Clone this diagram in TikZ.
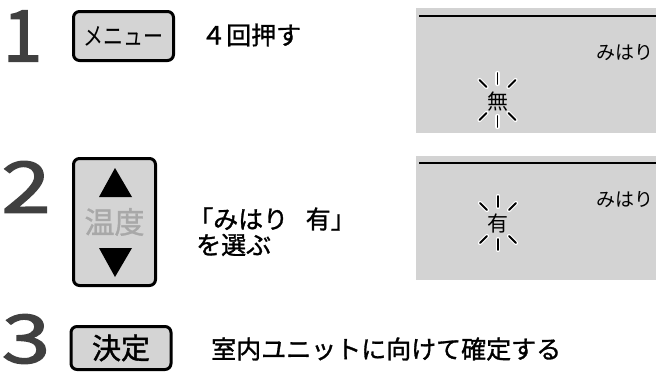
\documentclass[tikz,border=0pt]{standalone}
\usepackage{fontspec}
\usepackage{graphicx}
\usetikzlibrary{calc}
\setmainfont[FakeBold=1.2]{Noto Sans CJK JP}
\newfontfamily\plainjp{Noto Sans CJK JP}
\newfontfamily\digitfont[FakeBold=2]{Noto Sans CJK JP}
\definecolor{panelgray}{HTML}{D3D3D3}
\definecolor{btngray}{HTML}{D4D4D4}
\definecolor{digitgray}{HTML}{404040}
\definecolor{labelgray}{HTML}{A8A8A8}
\begin{document}
\begin{tikzpicture}[x=1pt,y=-1pt,
  stepnum/.style={inner sep=0pt, text=digitgray, font=\digitfont\fontsize{71}{71}\selectfont},
  btn/.style={draw=black, line width=3pt, fill=btngray, rounded corners=6pt, inner sep=0pt},
  panelrule/.style={line width=2pt, draw=black},
  txt/.style={inner sep=0pt, anchor=west, text=black},
  spark/.style={line width=1.9pt, line cap=round, draw=black, preaction={draw=white, line width=4.2pt, line cap=round}},
  tri/.style={fill=black, draw=none}]
\useasboundingbox (0,0) rectangle (656,372);
% step numbers
\node[stepnum] (n1) at (22.5,36) {1};
\node[stepnum, xscale=1.25] (n2) at (26,187) {2};
\node[stepnum, xscale=1.3, font=\digitfont\fontsize{67}{67}\selectfont] (n3) at (26,339) {3};
% buttons
\node[btn, minimum width=100pt, minimum height=49pt, font=\plainjp\fontsize{25}{25}\selectfont] (menu) at (123.5,36) {\scalebox{0.8}[1]{メニュー}};
\node[btn, minimum width=82pt, minimum height=127pt, text=labelgray, font=\fontsize{30}{30}\selectfont] (temp) at (114.5,222) {温度};
\fill[tri] (115,168) -- (132,197) -- (99,197) -- cycle;
\fill[tri] (99,248) -- (132,248) -- (115,277) -- cycle;
\node[btn, minimum width=100pt, minimum height=43pt, font=\fontsize{29}{29}\selectfont] (kettei) at (121,348) {決定};
% instruction texts
\node[txt, font=\fontsize{25}{25}\selectfont] (t1) at (201,35) {４回押す};
\node[txt, font=\fontsize{25}{25}\selectfont] (t2a) at (188,219) {「みはり\hspace{0.7em}有」};
\node[txt, font=\fontsize{25}{25}\selectfont] (t2b) at (196,245) {を選ぶ};
\node[txt, font=\fontsize{25}{25}\selectfont] (t3) at (211,349) {室内ユニットに向けて確定する};
% display panels
\fill[panelgray] (416,8) rectangle (656,133);
\draw[panelrule] (419,16) -- (656,16);
\node[inner sep=0pt, anchor=east, font=\plainjp\fontsize{19}{19}\selectfont] (p1label) at (654,53) {みはり};
\node[inner sep=0pt, font=\plainjp\fontsize{21}{21}\selectfont] (p1val) at (497.5,102) {無};
\coordinate (s1) at (497.5,100);
\foreach \a/\b/\c/\d in {0/-16/0/-27, 0/16/0/27, -11/-13/-18/-20, 11/-13/18/-20, -11/13/-18/20, 11/13/18/20}
  \draw[spark] ($(s1)+(\a,\b)$) -- ($(s1)+(\c,\d)$);
\fill[panelgray] (416,156) rectangle (656,280);
\draw[panelrule] (419,163) -- (656,163);
\node[inner sep=0pt, anchor=east, font=\plainjp\fontsize{19}{19}\selectfont] (p2label) at (654,200) {みはり};
\node[inner sep=0pt, font=\plainjp\fontsize{21}{21}\selectfont] (p2val) at (497.5,224) {有};
\coordinate (s2) at (498,223);
\foreach \a/\b/\c/\d in {0/-16/0/-27, 0/16/0/27, -11/-13/-18/-20, 11/-13/18/-20, -11/13/-18/20, 11/13/18/20}
  \draw[spark] ($(s2)+(\a,\b)$) -- ($(s2)+(\c,\d)$);
\end{tikzpicture}
\end{document}
